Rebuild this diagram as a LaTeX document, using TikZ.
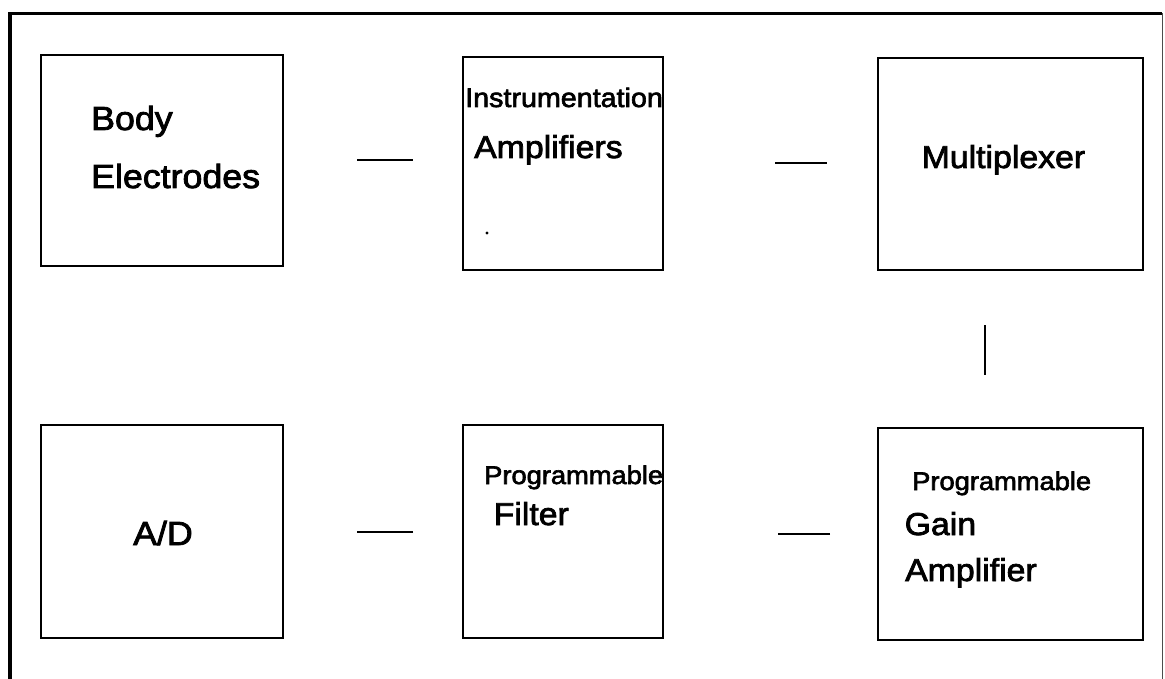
\documentclass[tikz,border=0pt]{standalone}
\usepackage{fontspec}
\setmainfont[FakeStretch=1.07, FakeBold=2.4]{Liberation Sans}
\begin{document}
\begin{tikzpicture}[x=1pt,y=-1pt,
  box/.style={draw, line width=2.2pt, inner sep=0pt, outer sep=0pt},
  link/.style={line width=2pt},
  big/.style={anchor=base west, inner sep=0pt, font=\fontsize{31.6}{38}\selectfont},
  large/.style={anchor=base west, inner sep=0pt, font=\fontsize{33.4}{40}\selectfont},
  small/.style={anchor=base west, inner sep=0pt, font=\fontsize{25.5}{31}\selectfont}]
\useasboundingbox (0,0) rectangle (1165,679);

% outer frame (bottom edge runs off the page)
\draw[line width=4pt] (10,700) -- (10,13.5);
\draw[line width=3pt] (8,13.5) -- (1162,13.5);
\draw[line width=1pt, black!70] (1162,13.5) -- (1162,700);

% blocks
\node[box, minimum width=242pt, minimum height=211pt] (b1) at (162,160.5) {};
\node[box, minimum width=200pt, minimum height=213pt] (b2) at (563,163.5) {};
\node[box, minimum width=265pt, minimum height=212pt] (b3) at (1010.5,164) {};
\node[box, minimum width=242pt, minimum height=213pt] (b4) at (162,531.5) {};
\node[box, minimum width=200pt, minimum height=213pt] (b5) at (563,531.5) {};
\node[box, minimum width=265pt, minimum height=212pt] (b6) at (1010.5,534) {};

% labels
\node[large] (l1a) at (91,130) {Body};
\node[large] (l1b) at (91,188) {Electrodes};
\node[small, font=\fontsize{26.8}{32}\selectfont] (l2a) at (465,107) {Instrumentation};
\node[big] (l2b) at (474,158) {Amplifiers};
\node[big] (l3) at (921.5,168) {Multiplexer};
\node[large] (l4) at (133,545) {A/D};
\node[small] (l5a) at (484,484) {Programmable};
\node[big] (l5b) at (493.5,525) {Filter};
\node[small] (l6a) at (912,490) {Programmable};
\node[big] (l6b) at (904.5,535) {Gain};
\node[big] (l6c) at (905,581) {Amplifier};

% speck inside the amplifier block
\fill (b2.south west) ++(24,-37) circle (1.6pt);

% connectors
\draw[link, shorten <=74pt, shorten >=50pt] (b1.east) -- (b1.east -| b2.west);
\draw[link, shorten <=112pt, shorten >=51pt] (b2.east) -- (b2.east -| b3.west);
\draw[link, shorten <=55pt, shorten >=53pt] ([xshift=-25.5pt]b3.south) -- ([xshift=-25.5pt]b6.north);
\draw[link, shorten <=48pt, shorten >=115pt] (b6.west) -- (b6.west -| b5.east);
\draw[link, shorten <=50pt, shorten >=74pt] (b5.west) -- (b5.west -| b4.east);
\end{tikzpicture}
\end{document}
